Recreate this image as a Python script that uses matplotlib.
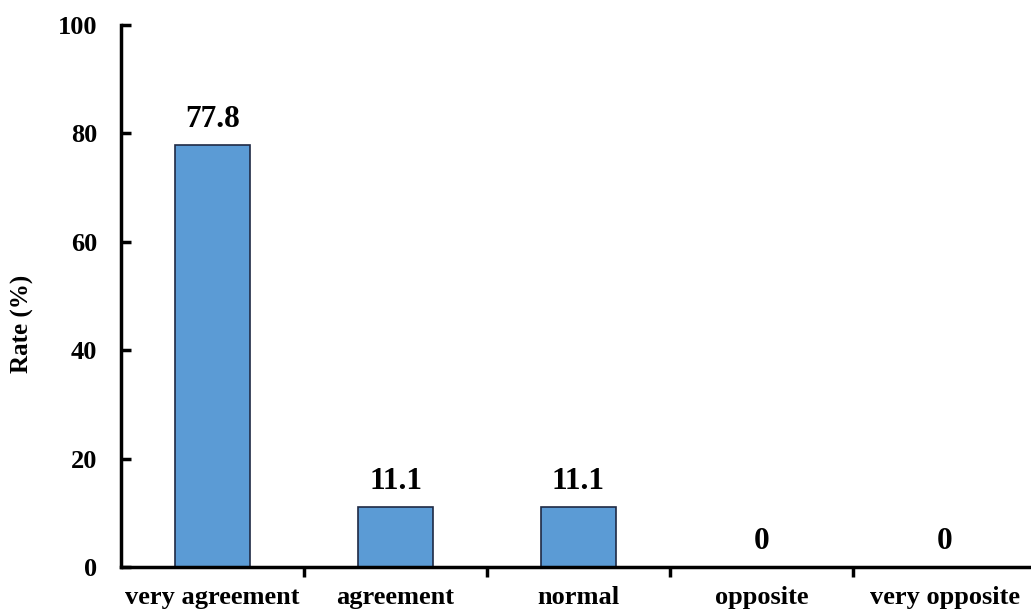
import numpy as np
import matplotlib.pyplot as plt
from matplotlib.ticker import FixedLocator

# Данные
categories = ['very agreement', 'agreement', 'normal', 'opposite', 'very opposite']
rates = [77.8, 11.1, 11.1, 0, 0]
value_labels = ['77.8', '11.1', '11.1', '0', '0']
y_ticks = [0, 20, 40, 60, 80, 100]

plt.rcParams['font.family'] = ['Liberation Serif', 'DejaVu Serif']
plt.rcParams['font.weight'] = 'bold'

fig = plt.figure(figsize=(10.31, 6.14), dpi=100)
# оси: от x=121 до ~1036 px, y от 25 до 567 px
ax = fig.add_axes([121 / 1031, (614 - 567) / 614, 915 / 1031, 542 / 614])

x = np.arange(len(categories))
ax.bar(x, rates, width=0.41, color='#5B9BD5', edgecolor='#1F2A44', linewidth=1.2, zorder=2)

for xi, r, lab in zip(x, rates, value_labels):
    ax.text(xi, r + 2.0, lab, ha='center', va='bottom', fontsize=22.5, fontweight='bold')

ax.set_xlim(-0.5, len(categories) - 0.5)
ax.set_ylim(0, 100)
ax.set_yticks(y_ticks)
ax.set_xticks(x)
ax.set_xticklabels(categories, fontsize=19, fontweight='bold')
ax.xaxis.set_minor_locator(FixedLocator(x[:-1] + 0.5))
ax.tick_params(axis='x', which='major', length=0, pad=14)
ax.tick_params(axis='x', which='minor', length=7, width=2.5, direction='out')
ax.tick_params(axis='y', which='major', length=7, width=2.5, direction='in', labelsize=19, pad=17)
for lab in ax.get_yticklabels():
    lab.set_fontweight('bold')

ax.set_ylabel('Rate (%)', fontsize=18, fontweight='bold', va='center')
ax.yaxis.set_label_coords(-0.108, 0.448)

ax.spines['top'].set_visible(False)
ax.spines['right'].set_visible(False)
ax.spines['left'].set_linewidth(2.5)
ax.spines['bottom'].set_linewidth(2.5)

fig.savefig('out.png', dpi=100)
